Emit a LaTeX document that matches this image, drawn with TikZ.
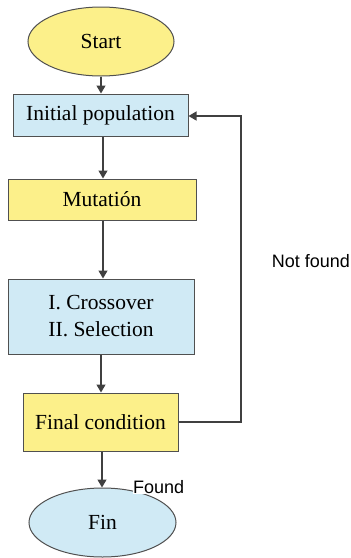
\documentclass[tikz,border=0pt]{standalone}
\usepackage{fontspec}
\setmainfont{Liberation Serif}
\newfontfamily\labelfont{Liberation Sans}
\usetikzlibrary{arrows.meta,shapes.geometric}
\definecolor{yfill}{HTML}{FCF08A}
\definecolor{bfill}{HTML}{D0EAF5}
\definecolor{edge}{HTML}{505050}
\definecolor{linec}{HTML}{404040}
\tikzset{
  base/.style={draw=edge, line width=1pt, inner sep=0pt, font=\fontsize{21.5}{27}\selectfont, align=center},
  term/.style={base, ellipse},
  proc/.style={base, rectangle},
  conn/.style={draw=linec, line width=1.3pt, -{Triangle[length=8pt,width=9pt]}},
  lab/.style={font=\labelfont\fontsize{18}{21}\selectfont, inner sep=0pt}
}
\begin{document}
\begin{tikzpicture}[x=1pt,y=-1pt]
\useasboundingbox (0,0) rectangle (351,558);
\node[term, fill=yfill, minimum width=146pt, minimum height=69pt] (start) at (101,41.5) {Start};
\node[proc, fill=bfill, minimum width=175pt, minimum height=42pt] (init) at (100.5,115) {Initial population};
\node[proc, fill=yfill, minimum width=188pt, minimum height=41pt] (mut) at (102,199.5) {Mutatión};
\node[proc, fill=bfill, minimum width=186pt, minimum height=75pt] (cross) at (101,316.5) {I. Crossover\\II. Selection};
\node[proc, fill=yfill, minimum width=155pt, minimum height=58pt] (final) at (100.5,422) {Final condition};
\node[term, fill=bfill, minimum width=147pt, minimum height=69pt] (fin) at (102.5,522.5) {Fin};
\coordinate (c1) at (241,422);
\coordinate (c2) at (241,116);
\draw[conn] (start.south) -- (start.south |- init.north);
\draw[conn] (init.south -| 103,0) -- (mut.north -| 103,0);
\draw[conn] (mut.south -| 103,0) -- (cross.north -| 103,0);
\draw[conn] (cross.south -| 101,0) -- (final.north -| 101,0);
\draw[conn] (final.south -| 102,0) -- (fin.north -| 102,0);
\draw[conn] (final.east |- c1) -- (c1) -- (c2) -- (init.east |- c2);
\node[lab, fill=white, anchor=west] (found) at (133,487.5) {Found};
\node[lab] (notfound) at (311,261) {Not found};
\end{tikzpicture}
\end{document}
